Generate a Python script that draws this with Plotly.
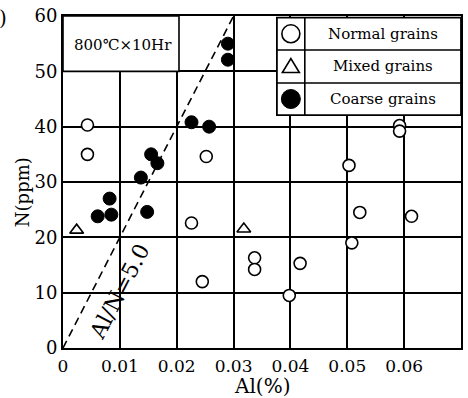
import plotly.graph_objects as go

# ---------------- data ----------------
normal_al = [0.0043, 0.0043, 0.0252, 0.0226, 0.0245, 0.0337, 0.0337, 0.0417, 0.0398,
             0.0508, 0.0522, 0.0613, 0.0503, 0.0592, 0.0592]
normal_n = [40.3, 35.0, 34.6, 22.6, 12.0, 16.3, 14.2, 15.3, 9.5,
            19.0, 24.5, 23.8, 33.0, 40.2, 39.2]

mixed_al = [0.0024, 0.0318]
mixed_n = [21.3, 21.5]

coarse_al = [0.0290, 0.0290, 0.0226, 0.0257, 0.0155, 0.0166, 0.0137, 0.0082, 0.0061, 0.0085, 0.0148]
coarse_n = [55.0, 52.1, 40.8, 40.0, 35.0, 33.4, 30.8, 27.0, 23.8, 24.1, 24.6]

ratio_al = [0.0, 0.03]
ratio_n = [0.0, 60.0]

x_tickvals = [0, 0.01, 0.02, 0.03, 0.04, 0.05, 0.06]
x_ticktext = ["0", "0.01", "0.02", "0.03", "0.04", "0.05", "0.06"]
y_tickvals = [0, 10, 20, 30, 40, 50, 60]

legend_names = ["Normal grains", "Mixed grains", "Coarse grains"]

SERIF = "DejaVu Serif, Liberation Serif, serif"

# ---------------- legend / box geometry (axis units) ----------------
LX0, LXD, LX1 = 0.03762, 0.04253, 0.07
LY0, LY1 = 42.1, 59.7
row_lines = [47.9, 53.86]
row_centers = [(LY1 + row_lines[1]) / 2, (row_lines[1] + row_lines[0]) / 2, (row_lines[0] + LY0) / 2]
key_x = (LX0 + LXD) / 2

fig = go.Figure()

fig.add_trace(go.Scatter(x=ratio_al, y=ratio_n, mode="lines",
                         line=dict(color="black", width=1.6, dash="8px,5px"),
                         showlegend=False, hoverinfo="skip"))
fig.add_trace(go.Scatter(x=normal_al, y=normal_n, mode="markers", name=legend_names[0],
                         marker=dict(symbol="circle", size=12, color="white",
                                     line=dict(color="black", width=1.6)),
                         showlegend=False))
fig.add_trace(go.Scatter(x=mixed_al, y=mixed_n, mode="markers", name=legend_names[1],
                         marker=dict(symbol="triangle-up-open", size=12, color="black",
                                     line=dict(color="black", width=1.6)),
                         showlegend=False))
fig.add_trace(go.Scatter(x=coarse_al, y=coarse_n, mode="markers", name=legend_names[2],
                         marker=dict(symbol="circle", size=13, color="black",
                                     line=dict(color="black", width=1)),
                         showlegend=False))

BLK = dict(color="black", width=1.6)
shapes = []
# condition box and legend table (white, hide the grid beneath)
shapes.append(dict(type="rect", xref="x", yref="y", x0=0, x1=0.0204, y0=50, y1=60,
                   fillcolor="white", line=BLK, layer="above"))
shapes.append(dict(type="rect", xref="x", yref="y", x0=LX0, x1=LX1, y0=LY0, y1=LY1,
                   fillcolor="white", line=dict(color="black", width=1.8), layer="above"))
shapes.append(dict(type="line", xref="x", yref="y", x0=LXD, x1=LXD, y0=LY0, y1=LY1,
                   line=BLK, layer="above"))
for ry in row_lines:
    shapes.append(dict(type="line", xref="x", yref="y", x0=LX0, x1=LX1, y0=ry, y1=ry,
                       line=BLK, layer="above"))

# legend keys (pixel-sized glyphs anchored in the key column)
shapes.append(dict(type="circle", xref="x", yref="y", xsizemode="pixel", ysizemode="pixel",
                   xanchor=key_x, yanchor=row_centers[0], x0=-9, x1=9, y0=-9, y1=9,
                   fillcolor="white", line=BLK, layer="above"))
shapes.append(dict(type="path", xref="x", yref="y", xsizemode="pixel", ysizemode="pixel",
                   xanchor=key_x, yanchor=row_centers[1],
                   path="M -8.5 -6 L 8.5 -6 L 0 8 Z",
                   fillcolor="white", line=BLK, layer="above"))
shapes.append(dict(type="circle", xref="x", yref="y", xsizemode="pixel", ysizemode="pixel",
                   xanchor=key_x, yanchor=row_centers[2], x0=-9.5, x1=9.5, y0=-9.5, y1=9.5,
                   fillcolor="black", line=dict(color="black", width=1), layer="above"))

annotations = []
for name, yc in zip(legend_names, row_centers):
    annotations.append(dict(text=name, xref="x", yref="y", x=(LXD + LX1) / 2, y=yc,
                            showarrow=False, xanchor="center", yanchor="middle",
                            font=dict(family=SERIF, size=15, color="black")))
annotations.append(dict(text="800℃×10Hr", xref="x", yref="y", x=0.0105, y=54.8,
                        showarrow=False, xanchor="center", yanchor="middle",
                        font=dict(family=SERIF, size=15, color="black")))
annotations.append(dict(text="Al/N=5.0", xref="x", yref="y", x=0.0099, y=10.3,
                        showarrow=False, textangle=-62.6, xanchor="center", yanchor="middle",
                        font=dict(family=SERIF, size=22, color="black")))
annotations.append(dict(text="N(ppm)", xref="paper", yref="paper", x=-0.1, y=0.47,
                        showarrow=False, textangle=-90, xanchor="center", yanchor="middle",
                        font=dict(family=SERIF, size=18, color="black")))
annotations.append(dict(text="Al(%)", xref="paper", yref="paper", x=0.5,
                        y=-0.114, showarrow=False, xanchor="center", yanchor="middle",
                        font=dict(family=SERIF, size=20, color="black")))
annotations.append(dict(text=")", xref="paper", yref="paper", x=-0.152, y=0.995,
                        showarrow=False, xanchor="center", yanchor="middle",
                        font=dict(family=SERIF, size=20, color="black")))

fig.update_layout(
    width=468, height=398,
    margin=dict(l=63, r=5, t=16, b=50),
    paper_bgcolor="white", plot_bgcolor="white",
    showlegend=False, hovermode=False,
    shapes=shapes, annotations=annotations,
    xaxis=dict(range=[0, 0.07], tickvals=x_tickvals, ticktext=x_ticktext,
               showgrid=True, gridcolor="black", gridwidth=1.6,
               showline=True, linecolor="black", linewidth=2, mirror=True,
               zeroline=False, ticks="", ticklen=0, ticklabelstandoff=2,
               tickfont=dict(family=SERIF, size=17, color="black")),
    yaxis=dict(range=[0, 60], tickvals=y_tickvals,
               showgrid=True, gridcolor="black", gridwidth=1.6,
               showline=True, linecolor="black", linewidth=2, mirror=True,
               zeroline=False, ticks="", ticklen=0, ticklabelstandoff=0,
               tickfont=dict(family=SERIF, size=18, color="black")),
)

fig.write_html("out.html", config={"displayModeBar": False},
               post_script="document.body.style.margin='0px';")
